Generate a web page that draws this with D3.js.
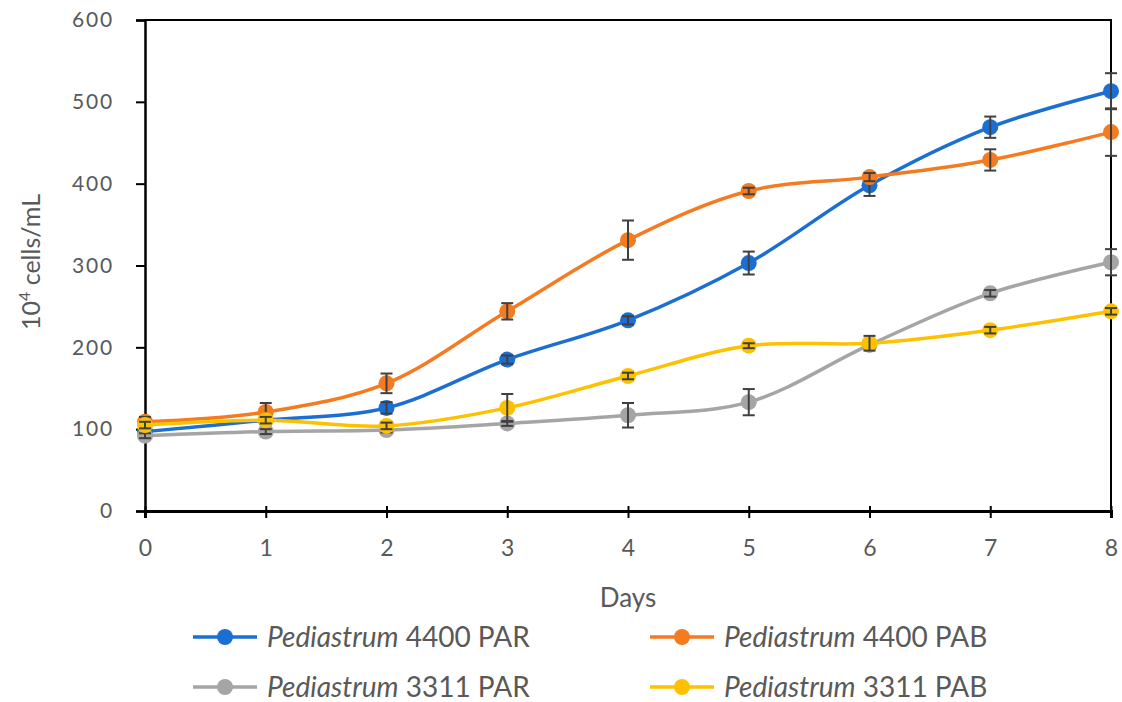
<!DOCTYPE html>
<html>
<head>
<meta charset="utf-8">
<script src="https://cdn.jsdelivr.net/npm/d3@7"></script>
<style>
  body { margin: 0; background: #fff; }
  text { font-family: Lato, "Open Sans", sans-serif; fill: #595959; }
</style>
</head>
<body>
<svg id="chart" width="1122" height="702"></svg>
<script>
// Data
var days = [0, 1, 2, 3, 4, 5, 6, 7, 8];
var yTicks = [0, 100, 200, 300, 400, 500, 600];

var par4400 = [97, 111, 126, 185, 233, 303, 398, 469, 513];
var par4400Err = [3, 4, 7, 5, 5, 14, 13, 13, 22];
var pab4400 = [109, 121, 156, 244, 331, 391, 408, 429, 463];
var pab4400Err = [6, 11, 12, 10, 24, 4, 5, 13, 29];
var par3311 = [92, 97, 99, 107, 117, 133, 203, 266, 304];
var par3311Err = [3, 3, 3, 3, 15, 16, 4, 4, 16];
var pab3311 = [105, 111, 104, 126, 165, 202, 205, 221, 244];
var pab3311Err = [4, 4, 4, 17, 4, 3, 9, 4, 4];

var seriesNames = ["4400 PAR", "4400 PAB", "3311 PAR", "3311 PAB"];
var seriesColors = ["#1c6fd2", "#f47b20", "#a5a5a5", "#fdc100"];

var series = [
    { name: seriesNames[0], color: seriesColors[0], values: par4400, err: par4400Err },
    { name: seriesNames[1], color: seriesColors[1], values: pab4400, err: pab4400Err },
    { name: seriesNames[2], color: seriesColors[2], values: par3311, err: par3311Err },
    { name: seriesNames[3], color: seriesColors[3], values: pab3311, err: pab3311Err }
];

var svg = d3.select("#chart");
var plotLeft = 145, plotRight = 1111, plotTop = 20, plotBottom = 511;

var x = d3.scaleLinear().domain([0, 8]).range([plotLeft, plotRight]);
var y = d3.scaleLinear().domain([0, 600]).range([plotBottom, plotTop]);

// frame on top and right
svg.append("path")
   .attr("d", "M" + plotLeft + "," + plotTop + "H" + plotRight + "V" + plotBottom)
   .attr("fill", "none")
   .attr("stroke", "#000")
   .attr("stroke-width", 2);

// y axis
var yAxis = svg.append("g")
   .attr("transform", "translate(" + plotLeft + ",0)")
   .call(d3.axisLeft(y).tickValues(yTicks).tickSize(9).tickPadding(30));
yAxis.select(".domain").attr("stroke-width", 2.5);
yAxis.selectAll(".tick line").attr("stroke-width", 2);
yAxis.selectAll("text")
     .attr("font-size", 21)
     .attr("letter-spacing", 1.8)
     .attr("text-anchor", "end")
     .attr("x", -31)
     .style("fill", "#595959");

// x axis, ticks crossing the line
var xAxis = svg.append("g")
   .attr("transform", "translate(0," + plotBottom + ")")
   .call(d3.axisBottom(x).tickValues(days).tickSizeOuter(0).tickSize(7).tickPadding(24));
xAxis.select(".domain").attr("stroke-width", 3);
xAxis.selectAll(".tick line").attr("y1", -5).attr("stroke-width", 2);
xAxis.selectAll("text").attr("font-size", 23).attr("dy", "0.6em").style("fill", "#595959");

// axis titles
svg.append("text")
   .attr("x", 628).attr("y", 607)
   .attr("text-anchor", "middle")
   .attr("font-size", 26)
   .text("Days");

var yTitle = svg.append("text")
   .attr("transform", "translate(40,262) rotate(-90)")
   .attr("text-anchor", "middle")
   .attr("font-size", 25);
yTitle.append("tspan").text("10");
yTitle.append("tspan").attr("dy", -10).attr("font-size", 16).text("4");
yTitle.append("tspan").attr("dy", 10).text(" cells/mL");

var line = d3.line()
   .x((d, i) => x(days[i]))
   .y(d => y(d))
   .curve(d3.curveCatmullRom.alpha(0.5));

series.forEach(function(s) {
    var g = svg.append("g");

    g.append("path")
     .datum(s.values)
     .attr("d", line)
     .attr("fill", "none")
     .attr("stroke", s.color)
     .attr("stroke-width", 3.5);

    g.selectAll("circle")
     .data(s.values)
     .enter()
     .append("circle")
     .attr("cx", (d, i) => x(days[i]))
     .attr("cy", d => y(d))
     .attr("r", 8)
     .attr("fill", s.color);

    // error bars
    var eb = g.selectAll(".err")
     .data(s.values)
     .enter()
     .append("g")
     .attr("stroke", "#404040")
     .attr("stroke-width", 2);
    eb.append("line")
      .attr("x1", (d, i) => x(days[i])).attr("x2", (d, i) => x(days[i]))
      .attr("y1", (d, i) => y(d - s.err[i])).attr("y2", (d, i) => y(d + s.err[i]));
    eb.append("line")
      .attr("x1", (d, i) => x(days[i]) - 6).attr("x2", (d, i) => x(days[i]) + 6)
      .attr("y1", (d, i) => y(d + s.err[i])).attr("y2", (d, i) => y(d + s.err[i]));
    eb.append("line")
      .attr("x1", (d, i) => x(days[i]) - 6).attr("x2", (d, i) => x(days[i]) + 6)
      .attr("y1", (d, i) => y(d - s.err[i])).attr("y2", (d, i) => y(d - s.err[i]));
});

// legend
var legendPos = [[193, 637], [650, 637], [193, 687], [650, 687]];
series.forEach(function(s, i) {
    var lg = svg.append("g").attr("transform", "translate(" + legendPos[i][0] + "," + legendPos[i][1] + ")");
    lg.append("line")
      .attr("x1", 0).attr("x2", 64)
      .attr("stroke", s.color)
      .attr("stroke-width", 3.5);
    lg.append("circle")
      .attr("cx", 32).attr("r", 8)
      .attr("fill", s.color);
    var t = lg.append("text")
      .attr("x", 74).attr("y", 10)
      .attr("font-size", 28);
    t.append("tspan").attr("font-style", "italic").text("Pediastrum");
    t.append("tspan").text(" " + s.name);
});
</script>
</body>
</html>
